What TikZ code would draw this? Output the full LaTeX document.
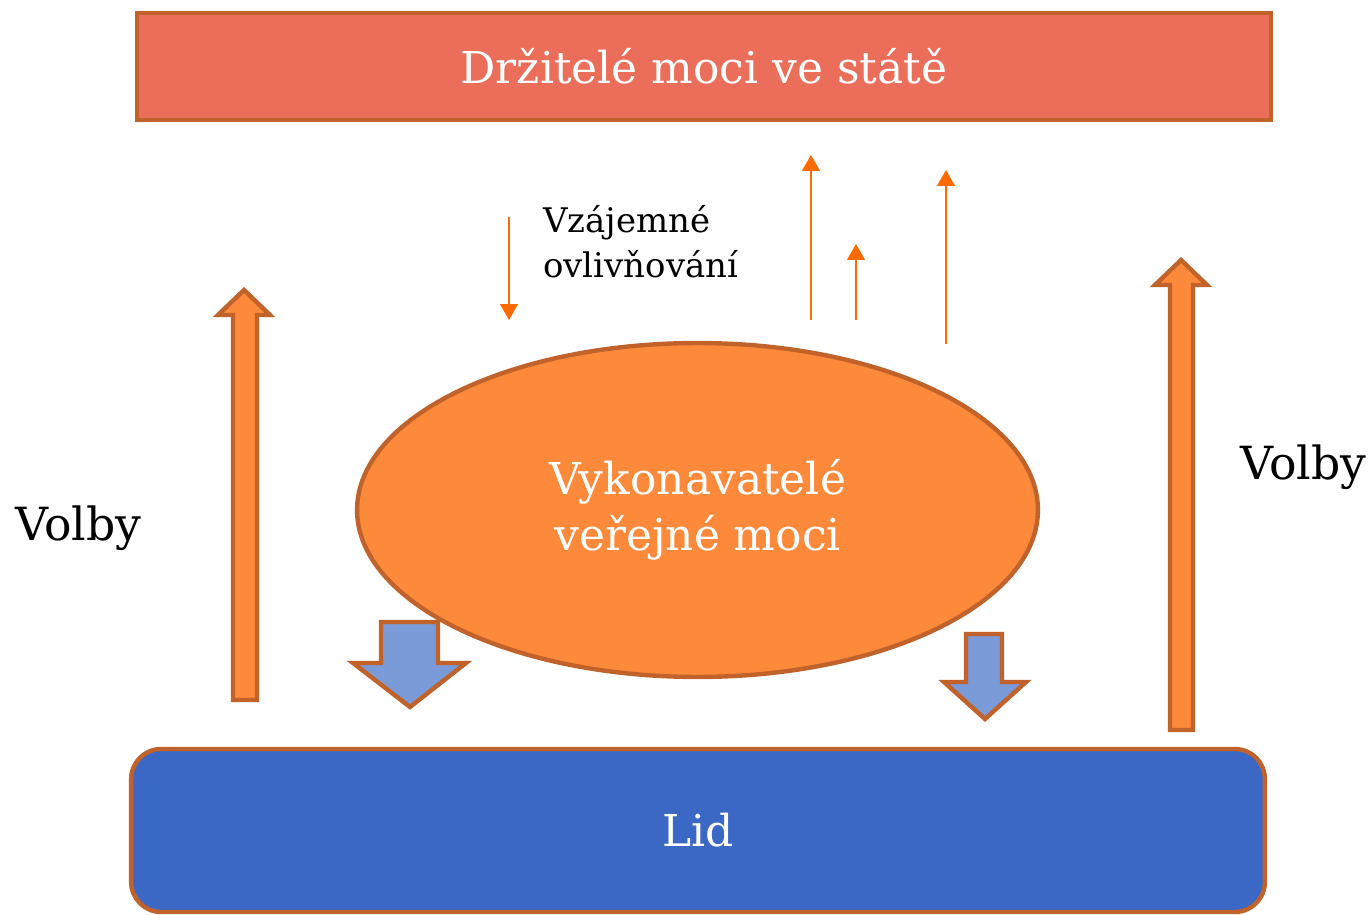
\documentclass[tikz,border=0pt]{standalone}
\usepackage{fontspec}
\setmainfont{DejaVu Serif}
\usetikzlibrary{shapes.geometric,arrows.meta}

\definecolor{rim}{HTML}{C0622A}
\definecolor{holder}{HTML}{EB6E5A}
\definecolor{doer}{HTML}{FD8A3B}
\definecolor{people}{HTML}{3A68C4}
\definecolor{downblue}{HTML}{7A9BD8}
\definecolor{thin}{HTML}{FF6A00}

\tikzset{
	block/.style={draw=rim,line width=2.5pt,text=white,font=\fontsize{25}{32}\selectfont},
	volbyarrow/.style={draw=rim,line width=2.5pt,fill=doer},
	downarrow/.style={draw=rim,line width=2.5pt,fill=downblue},
	influence/.style={draw=thin,line width=1.2pt,-{Triangle[length=9pt,width=10pt]}},
	label/.style={text=black,inner sep=0pt}
}

\begin{document}
\begin{tikzpicture}[x=0.02cm,y=-0.02cm]
	\useasboundingbox (0,0) rectangle (1370,915);
	
	\begin{scope}[every node/.style={block}]
		\node[fill=holder,minimum width=22.68cm,minimum height=2.14cm] (S) at (704,66.5) {Držitelé moci ve státě};
		\node[ellipse,fill=doer,minimum width=13.62cm,minimum height=6.68cm,align=center] (V) at (697.5,510) {Vykonavatelé\\veřejné moci};
		\node[rounded corners=0.6cm,fill=people,minimum width=22.68cm,minimum height=3.26cm] (L) at (698,830.5) {Lid};
	\end{scope}
	
	\begin{scope}[every node/.style={label}]
		\node[font=\fontsize{26}{30}\selectfont,anchor=west] (VL) at (15,528) {Volby};
		\node[font=\fontsize{26}{30}\selectfont,anchor=west] (VR) at (1240,467) {Volby};
		\node[font=\fontsize{19.3}{25.5}\selectfont,align=left,anchor=west] (VZ) at (543,242) {Vzájemné\\ovlivňování};
	\end{scope}
	
	% block arrows
	\draw[volbyarrow] (233,700) -- (233,315) -- (218,315) -- (244,290) -- (270,315) -- (257,315) -- (257,700) -- cycle;
	\draw[volbyarrow] (1170,730) -- (1170,285) -- (1155,285) -- (1181,260) -- (1207,285) -- (1193,285) -- (1193,730) -- cycle;
	\draw[downarrow] (381,622) -- (438,622) -- (438,663) -- (466,663) -- (410,707) -- (353,663) -- (381,663) -- cycle;
	\draw[downarrow] (966,634) -- (1002,634) -- (1002,682) -- (1026,682) -- (985,719) -- (944,682) -- (966,682) -- cycle;
	
	% thin arrows
	\coordinate (a1) at (509,217); \coordinate (b1) at (509,320);
	\coordinate (a2) at (811,320); \coordinate (b2) at (811,155);
	\coordinate (a3) at (856,320); \coordinate (b3) at (856,244);
	\coordinate (a4) at (946,344); \coordinate (b4) at (946,170);
	\begin{scope}
		\path (a1) edge[influence] (b1);
		\path (a2) edge[influence] (b2);
		\path (a3) edge[influence] (b3);
		\path (a4) edge[influence] (b4);
	\end{scope}
\end{tikzpicture}
\end{document}
